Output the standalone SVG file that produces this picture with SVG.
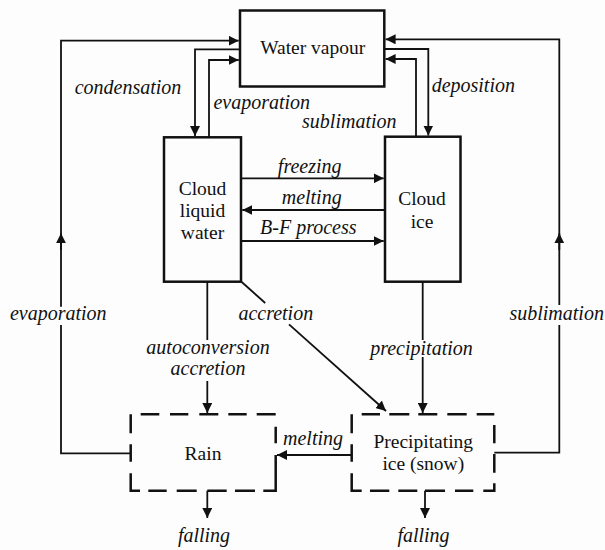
<svg xmlns="http://www.w3.org/2000/svg" width="605" height="550" viewBox="0 0 605 550">
<style>
.bg{fill:#fdfdfd}
.box{fill:none;stroke:#111;stroke-width:2.5}
.dash{fill:none;stroke:#111;stroke-width:2.5}
.ln{fill:none;stroke:#111;stroke-width:1.8}
.arr{marker-end:url(#ah)}
.nt{font-family:'Liberation Serif','Times New Roman',Tinos,'DejaVu Serif',serif;font-size:19.5px;fill:#111;text-anchor:middle}
.lb{font-family:'Liberation Serif','Times New Roman',Tinos,'DejaVu Serif',serif;font-size:20px;font-style:italic;fill:#111;text-anchor:middle}
</style>
<defs>
<marker id="ah" viewBox="0 0 10 10" refX="10" refY="5" markerWidth="10" markerHeight="10" markerUnits="userSpaceOnUse" orient="auto">
<path d="M0,0 L10,5 L0,10 z" fill="#111"/>
</marker>
</defs>
<rect class="bg" x="0" y="0" width="605" height="550"/>

<g id="connectors">
<path class="ln" d="M130.7,453.3 H61 V325"/>
<path class="ln arr" d="M61,306.7 V40.7 H238.7"/>
<path class="ln arr" d="M61,250 V233.3"/>
<path class="ln" d="M494.3,452.7 H559.3 V325"/>
<path class="ln arr" d="M559.3,305 V39.3 H385.6"/>
<path class="ln arr" d="M559.3,250 V233.3"/>
<path class="ln arr" d="M240,49.3 H195 V136"/>
<path class="ln arr" d="M209,137.3 V60 H238.7"/>
<path class="ln arr" d="M384.3,49 H428.3 V135.5"/>
<path class="ln arr" d="M416,136.7 V59 H385.6"/>
<path class="ln arr" d="M241,178.3 H383.7"/>
<path class="ln arr" d="M385,210 H242.3"/>
<path class="ln arr" d="M241,241 H383.7"/>
<path class="ln" d="M241.7,282 L265.2,303"/>
<path class="ln arr" d="M289,324.3 L386,411"/>
<path class="ln" d="M207.3,282 V340"/>
<path class="ln arr" d="M207.3,381 V413"/>
<path class="ln" d="M422.7,282 V340"/>
<path class="ln arr" d="M422.7,357 V413"/>
<path class="ln arr" d="M351.7,455 H277"/>
<path class="ln arr" d="M207.3,490.7 V518"/>
<path class="ln arr" d="M425,490.7 V518"/>
</g>

<g id="water-vapour">
<rect class="box" x="240" y="10.5" width="144.3" height="76"/>
<text class="nt" x="312.7" y="54">Water vapour</text>
</g>

<g id="cloud-liquid-water">
<rect class="box" x="164" y="137.3" width="77" height="144.4"/>
<text class="nt" x="202.5" y="195">Cloud</text>
<text class="nt" x="202.5" y="217">liquid</text>
<text class="nt" x="202.5" y="239">water</text>
</g>

<g id="cloud-ice">
<rect class="box" x="385" y="136.7" width="75.5" height="145"/>
<text class="nt" x="422" y="205">Cloud</text>
<text class="nt" x="422" y="227.5">ice</text>
</g>

<g id="rain">
<path class="dash" d="M140.7,414.3 H159.3 M170,414.3 H188.3 M199.3,414.3 H218.3 M228.3,414.3 H246.7 M256.7,414.3 H275.7
M130.7,414.3 V433.3 M130.7,444.3 V461.7 M130.7,473.3 V490.7 H140
M148.3,490.7 H166.7 M176.7,490.7 H196.7 M207.3,490.7 H226.7 M235,490.7 H255 M263.3,490.7 H275.7 V455
M275.7,426.7 V443.3"/>
<text class="nt" x="203" y="460">Rain</text>
</g>

<g id="precipitating-ice">
<path class="dash" d="M361.7,414.3 H380 M389.3,414.3 H409.3 M418.3,414.3 H437.3 M447.3,414.3 H466.7 M476.7,414.3 H494.3
M351.7,414.3 V433.3 M351.7,444.3 V461.7 M351.7,473.3 V490.7 H361.7
M370,490.7 H389.3 M398.3,490.7 H417.3 M425,490.7 H445 M455,490.7 H473.3 M483.3,490.7 H494.3 V483.3
M494.3,425 V443.3 M494.3,454 V472.7"/>
<text class="nt" x="423.3" y="448">Precipitating</text>
<text class="nt" x="423.3" y="469.5">ice (snow)</text>
</g>

<g id="labels">
<text class="lb" x="128" y="94">condensation</text>
<text class="lb" x="261.8" y="109.3">evaporation</text>
<text class="lb" x="349.3" y="128">sublimation</text>
<text class="lb" x="473.3" y="92">deposition</text>
<text class="lb" x="309.7" y="173">freezing</text>
<text class="lb" x="311.7" y="204">melting</text>
<text class="lb" x="308.3" y="234.3">B-F process</text>
<text class="lb" x="58.3" y="320">evaporation</text>
<text class="lb" x="556.7" y="319.5">sublimation</text>
<text class="lb" x="275.8" y="320">accretion</text>
<text class="lb" x="208" y="354.3">autoconversion</text>
<text class="lb" x="208" y="375">accretion</text>
<text class="lb" x="421.5" y="355">precipitation</text>
<text class="lb" x="313" y="445">melting</text>
<text class="lb" x="204" y="542">falling</text>
<text class="lb" x="423.5" y="542">falling</text>
</g>
</svg>
